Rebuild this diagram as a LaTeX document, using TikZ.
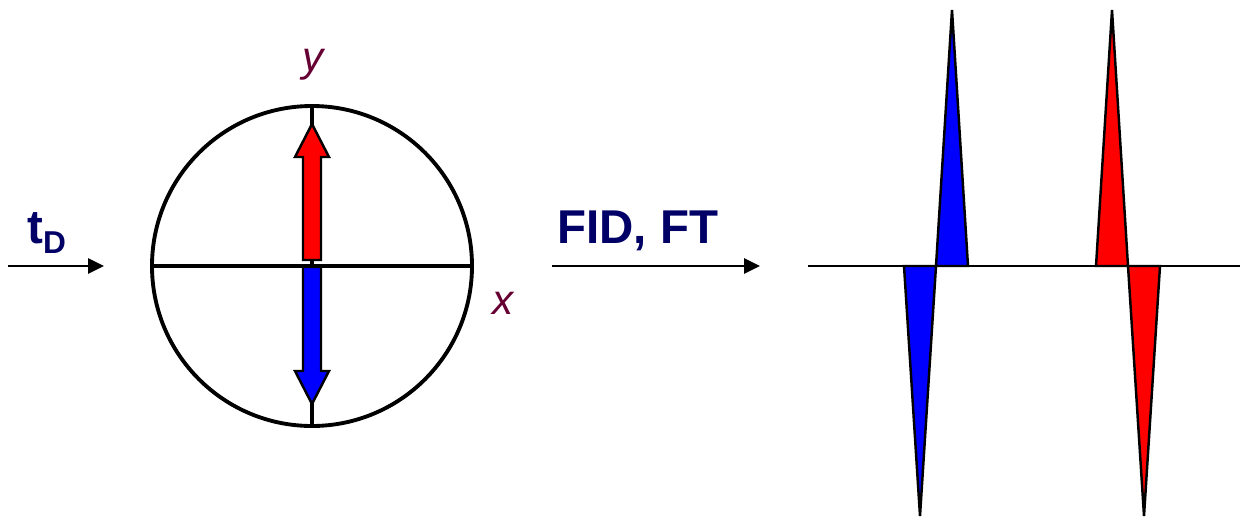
\documentclass[tikz,border=0pt]{standalone}
\usepackage{fontspec}
\setmainfont{Liberation Sans}
\usetikzlibrary{arrows.meta}
\definecolor{navy}{RGB}{0,0,102}
\definecolor{plum}{RGB}{102,0,51}

\begin{document}
\begin{tikzpicture}[x=0.02cm, y=-0.02cm]
    \useasboundingbox (0,0) rectangle (1244,518);

    % Tọa độ chính (pixel, trục y hướng xuống)
    \coordinate (O) at (312,266);
    \coordinate (top) at (312,106);
    \coordinate (bot) at (312,426);
    \coordinate (lft) at (152,266);
    \coordinate (rgt) at (472,266);

    % Mũi tên tD và FID, FT
    \coordinate (in_a) at (8,266);
    \coordinate (in_b) at (104,266);
    \coordinate (ft_a) at (552,266);
    \coordinate (ft_b) at (760,266);

    % Đường nền phổ
    \coordinate (base_a) at (808,266);
    \coordinate (base_b) at (1240,266);

    % Các đỉnh phổ
    \coordinate (b1) at (904,266);
    \coordinate (b2) at (936,266);
    \coordinate (b3) at (968,266);
    \coordinate (bdown) at (920,516);
    \coordinate (bup) at (952,10);
    \coordinate (r1) at (1096,266);
    \coordinate (r2) at (1128,266);
    \coordinate (r3) at (1160,266);
    \coordinate (rup) at (1112,10);
    \coordinate (rdown) at (1144,516);

    \tikzset{
        c_ring/.style={line width=2.2pt, color=black},
        c_flow/.style={line width=1.3pt, -{Triangle[length=9pt, width=8.5pt]}},
        c_fat/.style={draw=black, line width=1.4pt, line join=miter},
        c_peak/.style={draw=black, line width=1.4pt, line join=miter},
        c_lab/.style={font=\fontsize{27}{27}\selectfont\bfseries, text=navy, inner sep=0pt},
        c_ax/.style={font=\fontsize{24}{24}\selectfont\itshape, text=plum, inner sep=0pt}
    }

    % Vòng tròn và trục y
    \draw[c_ring] (O) circle (160);
    \draw[c_ring] (top) -- (bot);

    % Vectơ từ hóa đỏ (lên) và xanh (xuống)
    \draw[c_fat, fill=red] (303,260) -- (303,157) -- (295,157) -- (312,124)
        -- (329,157) -- (321,157) -- (321,260) -- cycle;
    \draw[c_fat, fill=blue] (303,267) -- (303,371) -- (295,371) -- (312,404)
        -- (329,371) -- (321,371) -- (321,267) -- cycle;

    % Trục x
    \draw[c_ring] (lft) -- (rgt);

    % Nhãn trục
    \node[c_ax] (ylab) at (313,65) {y};
    \node[c_ax] (xlab) at (503,303) {x};

    % Mũi tên và nhãn
    \draw[c_flow] (in_a) -- (in_b);
    \draw[c_flow] (ft_a) -- (ft_b);
    \node[c_lab, anchor=base west] (tD) at (27,243)
        {t\raisebox{-0.2cm}{\fontsize{18}{18}\selectfont D}};
    \node[c_lab, anchor=base west] (fid) at (557,243) {FID, FT};

    % Phổ
    \draw[line width=1.3pt] (base_a) -- (base_b);
    \filldraw[c_peak, fill=blue] (b1) -- (bdown) -- (b2) -- cycle;
    \filldraw[c_peak, fill=blue] (b2) -- (bup) -- (b3) -- cycle;
    \filldraw[c_peak, fill=red] (r1) -- (rup) -- (r2) -- cycle;
    \filldraw[c_peak, fill=red] (r2) -- (rdown) -- (r3) -- cycle;
\end{tikzpicture}
\end{document}
